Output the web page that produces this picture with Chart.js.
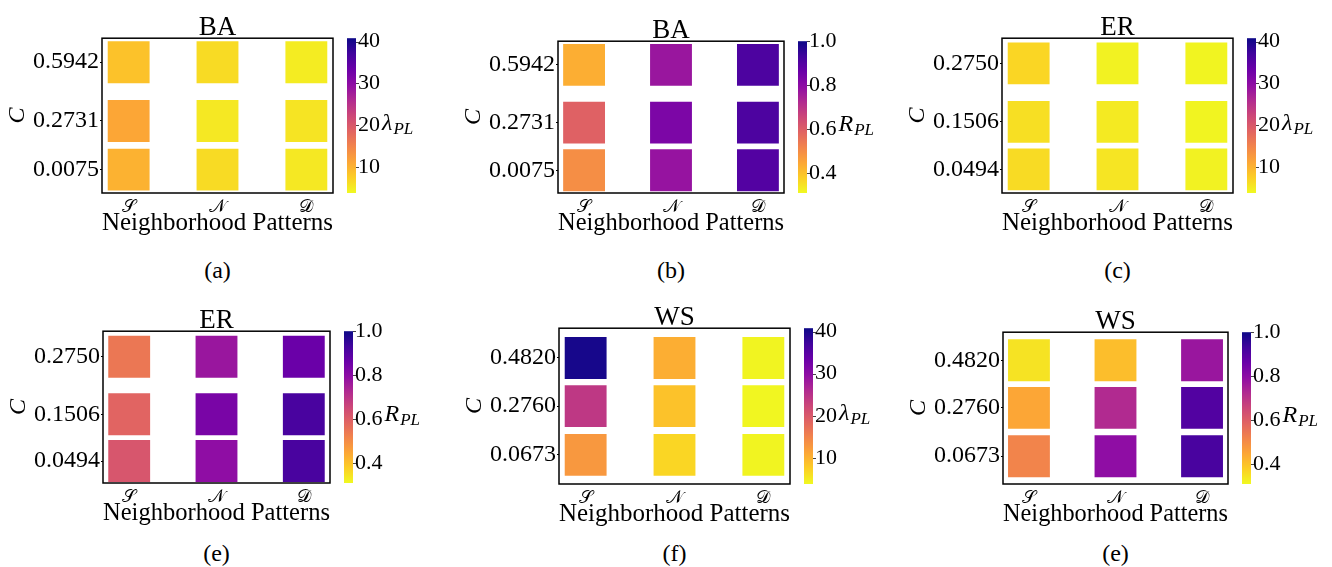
<!DOCTYPE html>
<html>
<head>
<meta charset="utf-8">
<script src="https://cdn.jsdelivr.net/npm/chart.js@4.4.0/dist/chart.umd.min.js"></script>
<style>
  body { margin: 0; background: #fff; width: 1332px; height: 567px; position: relative; overflow: hidden; }
  canvas { position: absolute; }
  .cap { position: absolute; font: 24px 'Liberation Serif', serif; color: #000; transform: translate(-50%, -50%); white-space: nowrap; }
</style>
</head>
<body>
<script>
// categories and row values (rows listed top to bottom, columns S, N, D)
const patterns = ['𝒮', '𝒩', '𝒟'];
const cBA = [0.5942, 0.2731, 0.0075];
const cER = [0.2750, 0.1506, 0.0494];
const cWS = [0.4820, 0.2760, 0.0673];

const lambdaBA = [[8.6, 6.4, 4.9], [11.2, 5.3, 5.6], [10.1, 6.4, 5.3]];
const rBA = [[0.434, 0.772, 0.910], [0.593, 0.828, 0.910], [0.496, 0.779, 0.900]];
const lambdaER = [[6.8, 4.4, 4.2], [6.0, 5.1, 4.2], [6.4, 5.5, 4.4]];
const rER = [[0.545, 0.772, 0.862], [0.586, 0.834, 0.917], [0.620, 0.793, 0.917]];
const lambdaWS = [[40.1, 10.5, 4.2], [24.2, 8.6, 4.1], [12.7, 6.8, 4.2]];
const rWS = [[0.345, 0.407, 0.772], [0.448, 0.724, 0.903], [0.517, 0.793, 0.917]];

const lambdaTicks = [10, 20, 30, 40];
const rTicks = [0.4, 0.6, 0.8, 1.0];
const lambdaRange = [3.8, 40.8];
const rRange = [0.31, 1.0];

const SERIF = "'Liberation Serif', 'DejaVu Serif', serif";
const SCRIPT = "'DejaVu Sans', 'DejaVu Serif', 'Liberation Serif', serif";

// plasma colormap stops
const plasma = ['#0d0887', '#41049d', '#6a00a8', '#8f0da4', '#b12a90', '#cc4778',
                '#e16462', '#f2844b', '#fca636', '#fcce25', '#f0f921'];

function hex(h) { return [1, 3, 5].map(i => parseInt(h.substr(i, 2), 16)); }
function plasmaAt(u) {
  u = Math.min(1, Math.max(0, u)) * (plasma.length - 1);
  const i = Math.min(plasma.length - 2, Math.floor(u)), f = u - i;
  const a = hex(plasma[i]), b = hex(plasma[i + 1]);
  return 'rgb(' + a.map((c, k) => Math.round(c + (b[k] - c) * f)).join(',') + ')';
}
// reversed plasma: low values yellow, high values dark blue
function cmap(v, range) {
  return plasmaAt(1 - (v - range[0]) / (range[1] - range[0]));
}

const panels = [
  { title: 'BA', cap: '(a)', c: cBA, vals: lambdaBA, range: lambdaRange, ticks: lambdaTicks, dec: 0, lab: 'λ', box: [102, 33, 333, 193], y: [-0.1204, 0.7253], capY: 270 },
  { title: 'BA', cap: '(b)', c: cBA, vals: rBA, range: rRange, ticks: rTicks, dec: 1, lab: 'R', box: [558, 36, 784, 193], y: [-0.119, 0.7261], capY: 270 },
  { title: 'ER', cap: '(c)', c: cER, vals: lambdaER, range: lambdaRange, ticks: lambdaTicks, dec: 0, lab: 'λ', box: [1002, 33, 1233, 193], y: [-0.0008, 0.3285], capY: 270 },
  { title: 'ER', cap: '(e)', c: cER, vals: rER, range: rRange, ticks: rTicks, dec: 1, lab: 'R', box: [103, 326, 330, 483], y: [0.0018, 0.3304], capY: 553 },
  { title: 'WS', cap: '(f)', c: cWS, vals: lambdaWS, range: lambdaRange, ticks: lambdaTicks, dec: 0, lab: 'λ', box: [559, 323, 790, 484], y: [-0.0571, 0.6093], capY: 553 },
  { title: 'WS', cap: '(e)', c: cWS, vals: rWS, range: rRange, ticks: rTicks, dec: 1, lab: 'R', box: [1003, 327, 1228, 484], y: [-0.0528, 0.603], capY: 553 }
];

const LY = 104, RC = 104, TT = 33, BX = 50;
const GAP = 14, BARW = 9, LABPAD = 25;

const framePlugin = {
  id: 'frame',
  afterDatasetsDraw(chart) {
    const { ctx, chartArea: a } = chart;
    ctx.save();
    ctx.strokeStyle = '#000';
    ctx.lineWidth = 1.5;
    ctx.strokeRect(a.left, a.top, a.right - a.left, a.bottom - a.top);
    ctx.restore();
  }
};

function colorbarPlugin(p) {
  return {
    id: 'colorbar',
    afterDraw(chart) {
      const { ctx, chartArea: a } = chart;
      const s = chart.scales.cb;
      const x0 = s.left + GAP;
      const yLo = s.getPixelForValue(p.range[0]), yHi = s.getPixelForValue(p.range[1]);
      const g = ctx.createLinearGradient(0, yLo, 0, yHi);
      plasma.forEach((_, i) => {
        const t = i / (plasma.length - 1);
        g.addColorStop(t, plasmaAt(1 - t));
      });
      ctx.save();
      ctx.fillStyle = g;
      ctx.fillRect(x0, a.top, BARW, a.bottom - a.top);
      ctx.strokeStyle = '#444';
      ctx.lineWidth = 1;
      p.ticks.forEach(v => {
        const y = Math.round(s.getPixelForValue(v)) + 0.5;
        ctx.beginPath();
        ctx.moveTo(x0 + BARW, y);
        ctx.lineTo(x0 + BARW + 3, y);
        ctx.stroke();
      });
      ctx.font = '22px ' + SERIF;
      const w = Math.max(...p.ticks.map(v => ctx.measureText(v.toFixed(p.dec)).width));
      const lx = s.left + LABPAD + w + 2;
      const mid = (a.top + a.bottom) / 2;
      ctx.fillStyle = '#000';
      ctx.textBaseline = 'alphabetic';
      ctx.textAlign = 'left';
      ctx.font = 'italic 24px ' + SERIF;
      ctx.fillText(p.lab, lx, mid + 14);
      const mw = ctx.measureText(p.lab).width;
      ctx.font = 'italic 17px ' + SERIF;
      ctx.fillText('PL', lx + mw + 1, mid + 18);
      ctx.restore();
    }
  };
}

panels.forEach(p => {
  const [l, t, r, b] = p.box;
  const cv = document.createElement('canvas');
  const W = (r - l) + LY + RC, H = (b - t) + TT + BX;
  cv.width = W; cv.height = H;
  cv.style.left = (l - LY) + 'px';
  cv.style.top = (t - TT) + 'px';
  cv.style.width = W + 'px';
  cv.style.height = H + 'px';
  document.body.appendChild(cv);

  const pts = [];
  p.c.forEach((cy, row) => {
    patterns.forEach((_, col) => pts.push({ x: col, y: cy, v: p.vals[row][col] }));
  });

  new Chart(cv, {
    type: 'scatter',
    data: {
      datasets: [{
        data: pts,
        pointStyle: 'rect',
        pointRadius: 29.6,
        pointHoverRadius: 29.6,
        borderWidth: 0,
        hoverBorderWidth: 0,
        backgroundColor: ctx => cmap(ctx.raw.v, p.range),
        hoverBackgroundColor: ctx => cmap(ctx.raw.v, p.range)
      }]
    },
    options: {
      responsive: false,
      animation: false,
      events: [],
      devicePixelRatio: 1,
      layout: { padding: 0 },
      plugins: {
        legend: { display: false },
        tooltip: { enabled: false },
        title: {
          display: true, text: p.title, color: '#000',
          font: { family: SERIF, size: 27, weight: 'normal', lineHeight: 0.8 },
          padding: { top: 12.4, bottom: -1 }
        }
      },
      scales: {
        x: {
          type: 'linear', min: -0.3, max: 2.3,
          afterBuildTicks: s => { s.ticks = patterns.map((_, i) => ({ value: i })); },
          afterFit: s => { s.height = BX; },
          ticks: {
            callback: v => patterns[v], color: '#000', padding: 8, autoSkip: false, maxRotation: 0,
            font: { family: SCRIPT, size: 18, lineHeight: 0.7 }
          },
          grid: { display: false, drawTicks: false },
          border: { display: false },
          title: {
            display: true, text: 'Neighborhood Patterns', color: '#000',
            font: { family: SERIF, size: 25 }, padding: { top: 0, bottom: 4.7 }
          }
        },
        y: {
          type: 'linear', min: p.y[0], max: p.y[1],
          afterBuildTicks: s => { s.ticks = [...p.c].sort((m, n) => m - n).map(v => ({ value: v })); },
          afterFit: s => { s.width = LY; },
          ticks: {
            callback: v => v.toFixed(4), color: '#000', padding: 1, autoSkip: false,
            font: { family: SERIF, size: 24 }
          },
          grid: { drawOnChartArea: false, drawTicks: true, tickLength: 2, color: '#000' },
          border: { display: false },
          title: {
            display: true, text: 'C', color: '#000',
            font: { family: SERIF, size: 24, style: 'italic' }, padding: { top: 5, bottom: 0 }
          }
        },
        cb: {
          type: 'linear', position: 'right', min: p.range[0], max: p.range[1],
          afterBuildTicks: s => { s.ticks = p.ticks.map(v => ({ value: v })); },
          afterFit: s => { s.width = RC; },
          ticks: {
            callback: v => v.toFixed(p.dec), color: '#000', padding: LABPAD, autoSkip: false,
            font: { family: SERIF, size: 22 }
          },
          grid: { display: false, drawTicks: false },
          border: { display: false }
        }
      }
    },
    plugins: [framePlugin, colorbarPlugin(p)]
  });

  const cap = document.createElement('div');
  cap.className = 'cap';
  cap.textContent = p.cap;
  cap.style.left = ((l + r) / 2) + 'px';
  cap.style.top = p.capY + 'px';
  document.body.appendChild(cap);
});
</script>
</body>
</html>
